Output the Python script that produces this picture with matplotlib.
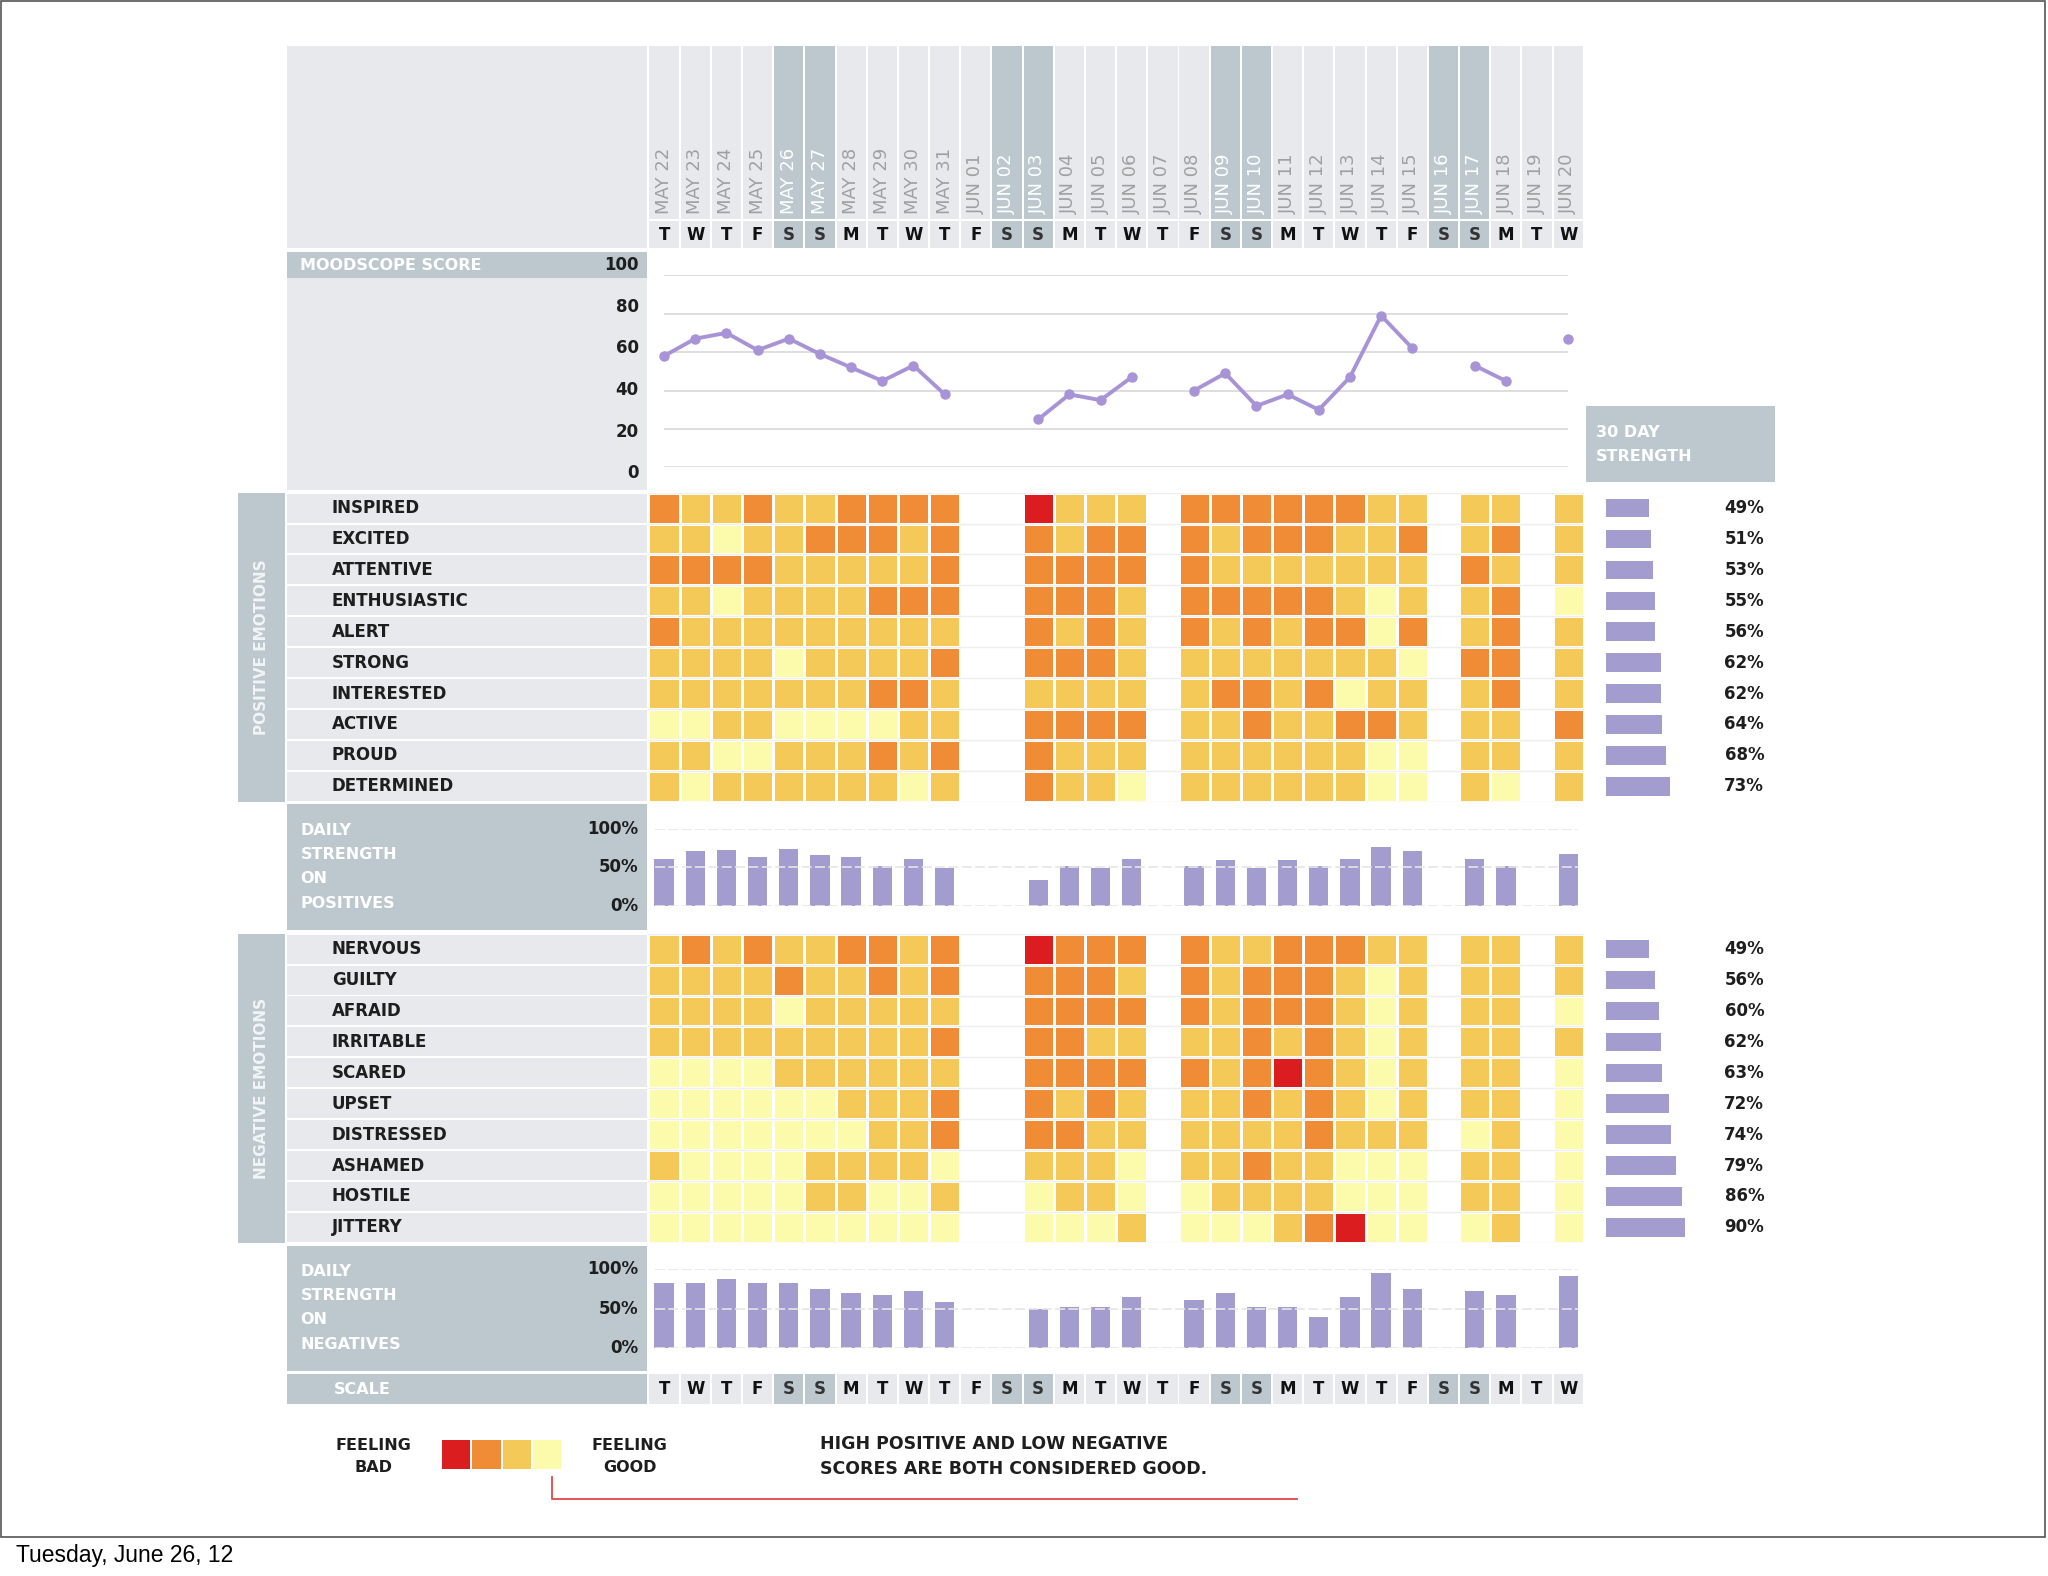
import numpy as np
import matplotlib
matplotlib.use('Agg')
import matplotlib.pyplot as plt
from matplotlib.colors import ListedColormap
from matplotlib.patches import Rectangle
from matplotlib.transforms import blended_transform_factory as blend

# ---- values ----
dates = ['MAY 22', 'MAY 23', 'MAY 24', 'MAY 25', 'MAY 26', 'MAY 27', 'MAY 28',
         'MAY 29', 'MAY 30', 'MAY 31', 'JUN 01', 'JUN 02', 'JUN 03', 'JUN 04',
         'JUN 05', 'JUN 06', 'JUN 07', 'JUN 08', 'JUN 09', 'JUN 10', 'JUN 11',
         'JUN 12', 'JUN 13', 'JUN 14', 'JUN 15', 'JUN 16', 'JUN 17', 'JUN 18',
         'JUN 19', 'JUN 20']
days = list('TWTFSSMTWTFSSMTWTFSSMTWTFSSMTW')

nan = np.nan
mood = [58, 67, 70, 61, 67, 59, 52, 45, 53, 38, nan, nan, 25, 38, 35, 47, nan,
        40, 49, 32, 38, 30, 47, 79, 62, nan, 53, 45, nan, 67]
mood_ticks = [100, 80, 60, 40, 20, 0]

pos_labels = ['INSPIRED', 'EXCITED', 'ATTENTIVE', 'ENTHUSIASTIC', 'ALERT',
              'STRONG', 'INTERESTED', 'ACTIVE', 'PROUD', 'DETERMINED']
neg_labels = ['NERVOUS', 'GUILTY', 'AFRAID', 'IRRITABLE', 'SCARED', 'UPSET',
              'DISTRESSED', 'ASHAMED', 'HOSTILE', 'JITTERY']

# R = feeling bad ... Y = feeling good, '.' = no entry that day
pos_cells = ['OGGOGGOOOO..RGGG.OOOOOOGG.GG.G',
             'GGYGGOOOGO..OGOO.OGOOOGGO.GO.G',
             'OOOOGGGGGO..OOOO.OGGGGGGG.OG.G',
             'GGYGGGGOOO..OOOG.OOOOOGYG.GO.Y',
             'OGGGGGGGGG..OGOG.OGOGOOYO.GO.G',
             'GGGGYGGGGO..OOOG.GGGGGGGY.OO.G',
             'GGGGGGGOOG..GGGG.GOOGOYGG.GO.G',
             'YYGGYYYYGG..OOOO.GGOGGOOG.GG.O',
             'GGYYGGGOGO..OGGG.GGGGGGYY.GG.G',
             'GYGGGGGGYG..OGGY.GGGGGGYY.GY.G']
neg_cells = ['GOGOGGOOGO..ROOO.OGGOOOGG.GG.G',
             'GGGGOGGOGO..OOOG.OGOOOGYG.GG.G',
             'GGGGYGGGGG..OOOO.OGOOOGYG.GG.Y',
             'GGGGGGGGGO..OOGG.GGOGOGYG.GG.G',
             'YYYYGGGGGG..OOOO.OGOROGYG.GG.Y',
             'YYYYYYGGGO..OGOG.GGOGOGYG.GG.Y',
             'YYYYYYYGGO..OOGG.GGGGOGGG.YG.Y',
             'GYYYYGGGGY..GGGY.GGOGGYYY.GG.Y',
             'YYYYYGGYYG..YGGY.YGGGGYYY.GG.Y',
             'YYYYYYYYYY..YYYG.YYYGORYY.YG.Y']

pos_30 = [49, 51, 53, 55, 56, 62, 62, 64, 68, 73]
neg_30 = [49, 56, 60, 62, 63, 72, 74, 79, 86, 90]

daily_pos = [61, 71, 73, 64, 74, 66, 64, 51, 61, 49, nan, nan, 33, 51, 49, 61, nan,
             51, 59, 49, 59, 51, 61, 77, 71, nan, 61, 51, nan, 67]
daily_neg = [82, 82, 88, 82, 82, 75, 70, 67, 72, 58, nan, nan, 50, 52, 52, 65, nan,
             61, 70, 52, 52, 40, 65, 95, 75, nan, 72, 67, nan, 91]

scale_colors = ['#dc1d1f', '#f08c36', '#f5c957', '#fcfaab']
LEVEL = {'R': 0, 'O': 1, 'G': 2, 'Y': 3}

# ---- styling ----
LIGHT = '#e7e9ec'
SLATE = '#bcc8ce'
BAR = '#a39dcf'
LINE = '#a893d7'
FONT = 'DejaVu Sans'
cmap = ListedColormap(scale_colors)

W, H = 1568, 1206          # layout units
COL0, COLW = 496.5, 23.87
COLR = COL0 + 30 * COLW

fig = plt.figure(figsize=(20.48, 15.76), dpi=100)
bg = fig.add_axes([0, 0, 1, 1])
bg.set_xlim(0, W)
bg.set_ylim(H, 0)
bg.axis('off')


def add_ax(x0, y0, x1, y1):
    return fig.add_axes([x0 / W, 1 - y1 / H, (x1 - x0) / W, (y1 - y0) / H])


def rect(x0, y0, x1, y1, c):
    bg.add_patch(Rectangle((x0, y0), x1 - x0, y1 - y0, color=c, lw=0))


def label(x, y, s, **kw):
    opts = dict(fontfamily=FONT, fontweight='bold', fontsize=11.5, color='#1e1e1e',
                va='center')
    opts.update(kw)
    return bg.text(x, y, s, **opts)


# frame of the slide and footer
bg.add_patch(Rectangle((1, 1), 1565, 1175, fill=False, ec='#555555', lw=1.2))
bg.text(12, 1190, 'Tuesday, June 26, 12', fontfamily='Liberation Sans',
        fontsize=16.5, va='center', color='black')

# ---- header with dates ----
rect(220, 35, 495, 190, LIGHT)
for i in range(30):
    x = COL0 + i * COLW
    wk = days[i] == 'S'
    rect(x + 0.75, 35, x + COLW - 0.75, 190, SLATE if wk else LIGHT)
    rect(x + 0.75, 1051.5, x + COLW - 0.75, 1074.5, SLATE if wk else LIGHT)
    label(x + COLW / 2, 164, dates[i], rotation=90, ha='center', va='bottom',
          fontweight='normal', fontsize=13, color='white' if wk else '#a0a0a0')
    label(x + COLW / 2, 180, days[i], ha='center', fontsize=12,
          color='#333333' if wk else '#111111')
    label(x + COLW / 2, 1063, days[i], ha='center', fontsize=12,
          color='#333333' if wk else '#111111')
bg.hlines(168.5, COL0, COLR, color='white', lw=1.5)

# ---- moodscope score ----
rect(220, 193, 495, 213, SLATE)
rect(220, 213, 495, 375, LIGHT)
label(230, 203, 'MOODSCOPE SCORE', color='white')
for v in mood_ticks:
    label(489, 203 + (100 - v) * 1.59, str(v), ha='right', fontsize=12)

lx = add_ax(COL0, 210.6, COLR, 357.7)
lx.hlines(range(0, 101, 20), 0, 29, color='#dedede', lw=1.4)
lx.plot(range(30), mood, color=LINE, lw=2.8, marker='o', ms=6.5, clip_on=False)
lx.set_xlim(-0.5, 29.5)
lx.set_ylim(0, 100)
lx.axis('off')

# 30 day strength header
rect(1214.5, 310.4, 1359, 368.7, SLATE)
label(1222, 340.5, '30 DAY\nSTRENGTH', color='white', linespacing=1.75)


# ---- emotion blocks ----
def emotions(labels, cells, strength, y0, y1, title):
    n = len(labels)
    rh = (y1 - y0) / n
    rect(182.5, y0, 218, y1, SLATE)
    label(200.3, (y0 + y1) / 2, title, rotation=90, ha='center', color='#f2f4f6',
          fontsize=11)
    for i in range(n):
        rect(220, y0 + i * rh + 0.75, 495, y0 + (i + 1) * rh - 0.75, LIGHT)

    hm = add_ax(COL0, y0, COLR, y1)
    grid = np.array([[LEVEL.get(c, nan) for c in r] for r in cells], float)
    hm.hlines(np.arange(-0.5, n + 0.5), -0.5, 29.5, color='#efefef', lw=1)
    hm.pcolormesh(np.arange(31) - 0.5, np.arange(n + 1) - 0.5,
                  np.ma.masked_invalid(grid), cmap=cmap, vmin=-0.5, vmax=3.5,
                  edgecolors='white', linewidth=2)
    hm.set_xlim(-0.5, 29.5)
    hm.set_ylim(n - 0.5, -0.5)
    hm.axis('off')
    tr = blend(bg.transData, hm.transData)
    for i, s in enumerate(labels):
        label(254, i, s, transform=tr, fontsize=12)

    sx = add_ax(1229.9, y0, 1229.9 + 67, y1)
    sx.barh(range(n), strength, height=0.6, color=BAR)
    sx.set_xlim(0, 100)
    sx.set_ylim(n - 0.5, -0.5)
    sx.axis('off')
    tr = blend(bg.transData, sx.transData)
    for i, v in enumerate(strength):
        label(1350.7, i, f'{v}%', transform=tr, ha='right', fontsize=12)


def daily(vals, y0, y1, y100, y0pct, text):
    rect(220, y0, 495, y1, SLATE)
    label(230, (y0 + y1) / 2 - 0.5, text, color='white', linespacing=1.78)
    ax = add_ax(COL0, y100, COLR, y0pct)
    ax.hlines([0, 50, 100], -0.3, 29.3, color='#e6e6e6', lw=1.2,
              linestyles=(0, (6, 2)))
    idx = [i for i, v in enumerate(vals) if not np.isnan(v)]
    ax.bar(idx, [vals[i] for i in idx], width=0.62, color=BAR)
    ax.set_xlim(-0.5, 29.5)
    ax.set_ylim(0, 100)
    ax.axis('off')
    tr = blend(bg.transData, ax.transData)
    for v in (100, 50, 0):
        label(489, v, f'{v}%', transform=tr, ha='right', fontsize=12)


emotions(pos_labels, pos_cells, pos_30, 377, 613.5, 'POSITIVE EMOTIONS')
daily(daily_pos, 615.6, 711.7, 634.3, 693, 'DAILY\nSTRENGTH\nON\nPOSITIVES')
emotions(neg_labels, neg_cells, neg_30, 714.5, 951, 'NEGATIVE EMOTIONS')
daily(daily_neg, 953.5, 1049, 971.2, 1031.7, 'DAILY\nSTRENGTH\nON\nNEGATIVES')

# scale row
rect(220, 1051.5, 495, 1074.5, SLATE)
label(256, 1063, 'SCALE', color='white')

# ---- legend ----
label(286, 1114.5, 'FEELING\nBAD', ha='center', multialignment='center',
      linespacing=1.65)
sw = (431 - 338.6) / len(scale_colors)
for i, c in enumerate(scale_colors):
    rect(338.6 + i * sw, 1102, 338.6 + (i + 1) * sw - 1.5, 1124.5, c)
label(482, 1114.5, 'FEELING\nGOOD', ha='center', multialignment='center',
      linespacing=1.65)
label(628, 1114.5, 'HIGH POSITIVE AND LOW NEGATIVE\nSCORES ARE BOTH CONSIDERED GOOD.',
      linespacing=1.55, fontsize=12.5)
bg.plot([422.6, 422.6, 993], [1130, 1147, 1147], color='#e0474a', lw=1.3)

fig.savefig('out.png', dpi=100)
